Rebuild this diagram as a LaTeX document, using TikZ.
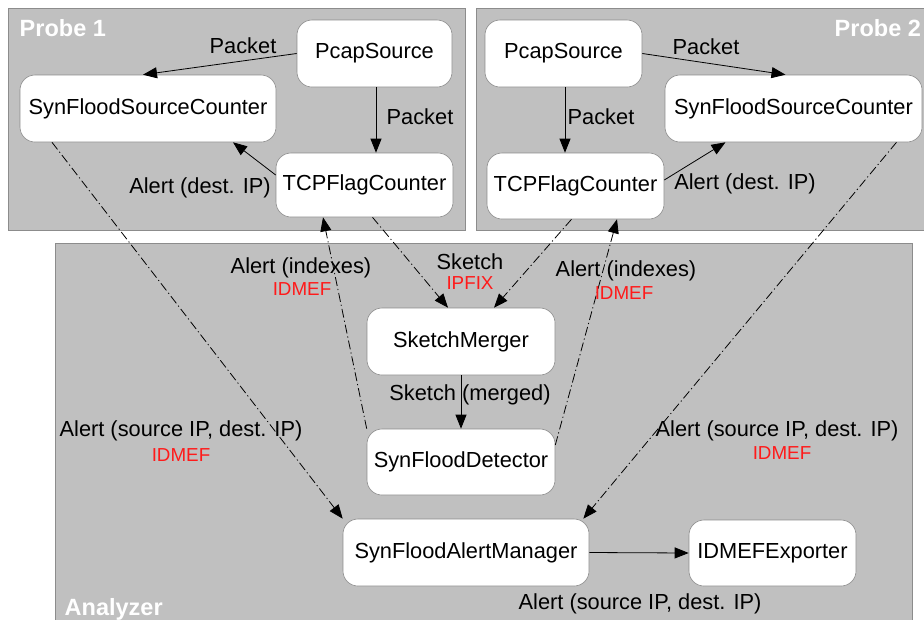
\documentclass[tikz,border=0pt]{standalone}
\usepackage{fontspec}
\setmainfont{Liberation Sans}
\usetikzlibrary{arrows.meta,positioning}

\definecolor{areagray}{HTML}{C0C0C0}
\definecolor{boxline}{HTML}{8C8C8C}
\definecolor{protored}{HTML}{FF1A1A}

\begin{document}
\begin{tikzpicture}[
    x = 1pt, y = -1pt, % pixel coordinates
    > = {Triangle[length=14pt,width=11pt]}, % arrow head style
    line width = 0.8pt,
    font = \fontsize{21.8}{26}\selectfont
    ]

    \tikzset{
    module/.style = {draw = boxline, line width = 0.6pt, fill = white,
        rounded corners = 15pt, inner sep = 0pt},
    area/.style = {draw = boxline, line width = 0.6pt, fill = areagray},
    areatitle/.style = {text = white, font = \fontsize{23.5}{28}\selectfont\bfseries},
    flow/.style = {->},
    ctrl/.style = {->, dash pattern = on 9pt off 3pt on 1.2pt off 3pt},
    proto/.style = {text = protored, font = \fontsize{18.8}{22}\selectfont}
    }

    \useasboundingbox (0,0) rectangle (924,619);

    % areas
    \draw[area] (8,8) rectangle (465,230);
    \draw[area] (476,8) rectangle (940,230);
    \draw[area] (55,243) rectangle (912,640);
    \node[areatitle, anchor = west] (probe1) at (16,28) {Probe 1};
    \node[areatitle, anchor = west] (probe2) at (831,28) {Probe 2};
    \node[areatitle, anchor = west] (analyzer) at (61,609) {Analyzer};

    % probe 1
    \node[module, minimum width = 155pt, minimum height = 67pt] (pcap1) at (374.5,53.5) {PcapSource};
    \node[module, minimum width = 256pt, minimum height = 67pt] (sfsc1) at (148,108.5) {SynFloodSourceCounter};
    \node[module, minimum width = 177pt, minimum height = 64pt] (tcp1) at (364.5,185) {TCPFlagCounter};

    % probe 2
    \node[module, minimum width = 157pt, minimum height = 67pt] (pcap2) at (563.5,53.5) {PcapSource};
    \node[module, minimum width = 257pt, minimum height = 67pt] (sfsc2) at (793.5,108.5) {SynFloodSourceCounter};
    \node[module, minimum width = 177pt, minimum height = 66pt] (tcp2) at (575.5,186) {TCPFlagCounter};

    % analyzer
    \node[module, minimum width = 188pt, minimum height = 67pt] (merger) at (461,341.5) {SketchMerger};
    \node[module, minimum width = 188pt, minimum height = 66pt] (detector) at (461,462) {SynFloodDetector};
    \node[module, minimum width = 246pt, minimum height = 67pt] (manager) at (466,552.5) {SynFloodAlertManager};
    \node[module, minimum width = 167pt, minimum height = 66pt] (exporter) at (772.5,553) {IDMEFExporter};

    % connections inside the probes
    \draw[flow] (pcap1.west) -- ([xshift=-5pt]sfsc1.north);
    \draw[flow] ([xshift=1.5pt]pcap1.south) -- ([xshift=11.5pt]tcp1.north);
    \draw[flow] ([yshift=10pt]tcp1.west) -- ([xshift=85pt]sfsc1.south);
    \draw[flow] (pcap2.east) -- ([xshift=-8pt]sfsc2.north);
    \draw[flow] ([xshift=1.5pt]pcap2.south) -- ([xshift=-10.5pt]tcp2.north);
    \draw[flow] ([yshift=6pt]tcp2.east) -- ([xshift=-68pt]sfsc2.south);

    % connections to the analyzer
    \draw[ctrl] ([xshift=8pt]tcp1.south) -- ([xshift=-13pt]merger.north);
    \draw[ctrl] ([xshift=-4pt]tcp2.south) -- ([xshift=33pt]merger.north);
    \draw[ctrl] (detector.north west) -- ([xshift=-41.5pt]tcp1.south);
    \draw[ctrl] ([yshift=17pt]detector.east) -- ([xshift=41.5pt]tcp2.south);
    \draw[ctrl] ([xshift=-96pt]sfsc1.south) -- (manager.north west);
    \draw[ctrl] ([xshift=103pt]sfsc2.south) -- ([xshift=-6pt]manager.north east);
    \draw[flow] (merger.south) -- (detector.north);
    \draw[flow] (manager.east) -- (exporter.west);

    % labels
    \node (lpkt1) at (243,46) {Packet};
    \node (lpkt2) at (420,117) {Packet};
    \node (lalert1) at (200,188) {Alert (dest. IP)};
    \node (lpkt3) at (706,47) {Packet};
    \node (lpkt4) at (601,117) {Packet};
    \node (lalert2) at (745,184) {Alert (dest. IP)};
    \node (lidx1) at (301,268) {Alert (indexes)};
    \node[proto] (lidx1p) at (302,289) {IDMEF};
    \node (lsketch) at (470,262) {Sketch};
    \node[proto] (lsketchp) at (470,283) {IPFIX};
    \node (lidx2) at (626,271) {Alert (indexes)};
    \node[proto] (lidx2p) at (624,293) {IDMEF};
    \node (lmerged) at (470,395) {Sketch (merged)};
    \node (lsrc1) at (181,431) {Alert (source IP, dest. IP)};
    \node[proto] (lsrc1p) at (181,455) {IDMEF};
    \node (lsrc2) at (777,431) {Alert (source IP, dest. IP)};
    \node[proto] (lsrc2p) at (782,453) {IDMEF};
    \node (lexport) at (640,604) {Alert (source IP, dest. IP)};
\end{tikzpicture}
\end{document}
